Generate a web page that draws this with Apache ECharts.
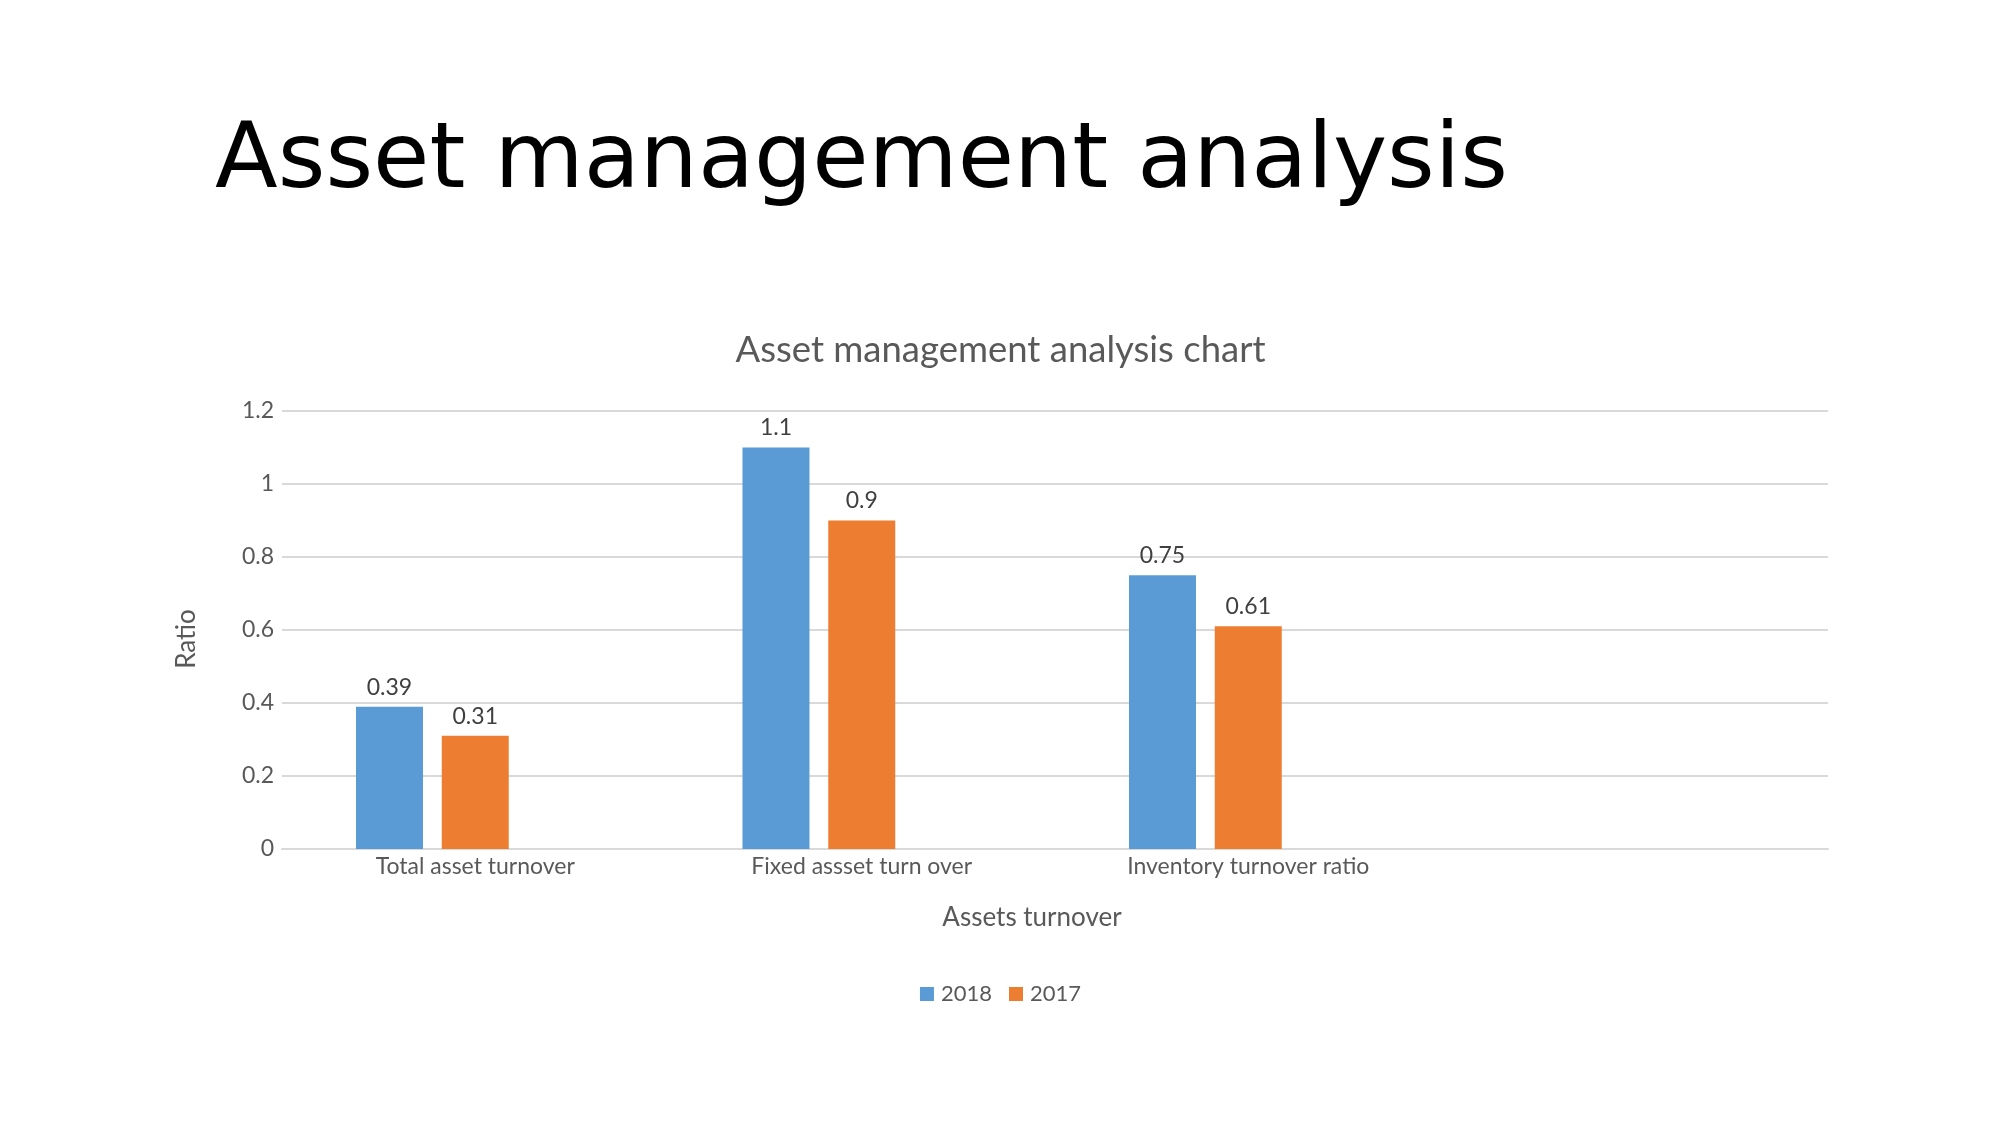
<!DOCTYPE html>
<html>
<head>
<meta charset="utf-8">
<script src="https://cdn.jsdelivr.net/npm/echarts@6/dist/echarts.min.js"></script>
<style>
html,body{margin:0;padding:0;background:#fff;}
#c{width:2001px;height:1125px;}
</style>
</head>
<body>
<div id="c"></div>
<script>
var pageTitle = 'Asset management analysis';
var chartTitle = 'Asset management analysis chart';
var categories = ['Total asset turnover', 'Fixed assset turn over', 'Inventory turnover ratio', ''];
var seriesNames = ['2018', '2017'];
var values2018 = [0.39, 1.1, 0.75, null];
var values2017 = [0.31, 0.9, 0.61, null];
var placeholder = [null, null, null, null];
var yTicks = {min: 0, max: 1.2, interval: 0.2};
var xName = 'Assets turnover';
var yName = 'Ratio';

var FONT = 'Lato';
var chart = echarts.init(document.getElementById('c'), null, {renderer: 'canvas'});
chart.setOption({
  backgroundColor: '#ffffff',
  animation: false,
  title: [
    {text: pageTitle, left: 210, top: 112,
     textStyle: {fontFamily: 'DejaVu Sans', fontSize: 91.6, fontWeight: 'normal', color: '#000000'}},
    {text: chartTitle, left: 'center', top: 327,
     textStyle: {fontFamily: FONT, fontSize: 36.5, fontWeight: 'normal', color: '#595959'}}
  ],
  legend: {
    data: seriesNames, bottom: 115, left: 'center',
    itemWidth: 14, itemHeight: 14, itemGap: 17, icon: 'rect',
    textStyle: {fontFamily: FONT, fontSize: 22, color: '#595959', padding: [0, 0, 0, 2]}
  },
  grid: {left: 282, right: 173, top: 411, bottom: 276, containLabel: false},
  xAxis: {
    type: 'category', data: categories,
    name: xName, nameLocation: 'middle', nameGap: 56,
    nameTextStyle: {fontFamily: FONT, fontSize: 26, color: '#595959', padding: [0, 46, 0, 0]},
    axisLine: {lineStyle: {color: '#D9D9D9', width: 2}},
    axisTick: {show: false},
    axisLabel: {fontFamily: FONT, fontSize: 23, color: '#595959', margin: 6, interval: 0}
  },
  yAxis: {
    type: 'value', min: yTicks.min, max: yTicks.max, interval: yTicks.interval,
    name: yName, nameLocation: 'middle', nameGap: 82, nameRotate: 90,
    nameTextStyle: {fontFamily: FONT, fontSize: 26, color: '#595959', padding: [0, 18, 0, 0]},
    axisLine: {show: false}, axisTick: {show: false},
    splitLine: {lineStyle: {color: '#D9D9D9', width: 2}},
    axisLabel: {fontFamily: FONT, fontSize: 23, color: '#595959', margin: 8}
  },
  series: [
    {name: seriesNames[0], type: 'bar', data: values2018, barWidth: 67, barGap: '28%',
     itemStyle: {color: '#5B9BD5'},
     label: {show: true, position: 'top', distance: 8, fontFamily: FONT, fontSize: 23, color: '#404040'}},
    {name: seriesNames[1], type: 'bar', data: values2017, barWidth: 67, barGap: '28%',
     itemStyle: {color: '#ED7D31'},
     label: {show: true, position: 'top', distance: 8, fontFamily: FONT, fontSize: 23, color: '#404040'}},
    {name: 'spacer', type: 'bar', data: placeholder, barWidth: 67, barGap: '28%',
     itemStyle: {color: 'rgba(0,0,0,0)'}, silent: true}
  ]
});
</script>
</body>
</html>
